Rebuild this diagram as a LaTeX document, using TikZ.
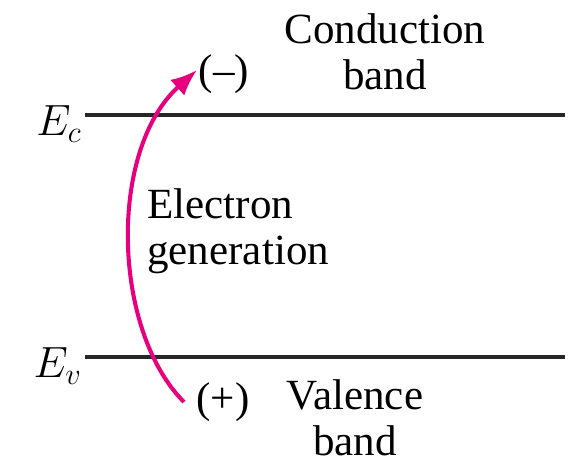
\documentclass[tikz,border=0pt]{standalone}
\usepackage{fontspec}
\setmainfont{Liberation Serif}
\usetikzlibrary{arrows.meta}
\definecolor{genmagenta}{RGB}{230,0,126}
\begin{document}
\begin{tikzpicture}[x=0.02cm,y=-0.02cm,
    bandline/.style={line width=2.3pt,black!85},
    lbl/.style={font=\fontsize{24.5}{26}\selectfont,inner sep=0pt},
    genarrow/.style={line width=2.3pt,genmagenta,-{Latex[length=15pt,width=12pt]}}]
        \useasboundingbox (0,0) rectangle (571,463);

        % Estremi delle bande
        \coordinate (ecL) at (85,115);
        \coordinate (ecR) at (565,115);
        \coordinate (evL) at (85,357);
        \coordinate (evR) at (565,357);

        % Linee delle bande
        \draw[bandline] (ecL) -- (ecR);
        \draw[bandline] (evL) -- (evR);

        % Etichette dei livelli
        \node[lbl,anchor=east] (ec) at (82,124) {$E_c$};
        \node[lbl,anchor=east] (ev) at (82,366) {$E_v$};

        % Nomi delle bande
        \node[lbl,align=center] (cb) at (385,52) {Conduction\\band};
        \node[lbl,align=center] (vb) at (355,418) {Valence\\band};

        % Cariche
        \node[lbl] (minus) at (224,74) {(\textendash)};
        \node[lbl] (plus) at (223,402) {(+)};

        % Generazione
        \node[lbl,align=left,anchor=west] (gen) at (147,231) {Electron\\generation};

        % Freccia di generazione
        \coordinate (genS) at (184,402);
        \coordinate (genE) at (197,70);
        \draw[genarrow] (genS) .. controls (112,330) and (108,150) .. (genE);

    \end{tikzpicture}
\end{document}
